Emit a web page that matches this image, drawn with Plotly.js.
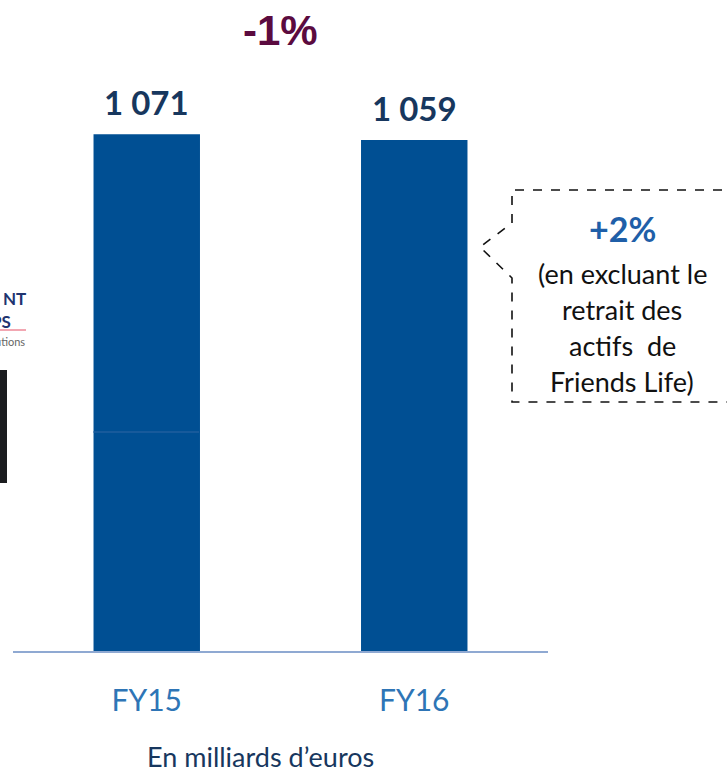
<!DOCTYPE html>
<html>
<head>
<meta charset="utf-8">
<script src="https://cdn.plot.ly/plotly-3.0.1.min.js"></script>
<style>
  html, body { margin: 0; padding: 0; background: #ffffff; }
  #chart { width: 727px; height: 773px; }
</style>
</head>
<body>
<div id="chart"></div>
<script>
// ---- data ----
const categories = ["FY15", "FY16"];
const values = [1071, 1059];
const valueLabels = ["1 071", "1 059"];
const changeLabel = "-1%";
const calloutHeadline = "+2%";
const calloutLines = ["(en excluant le", "retrait des", "actifs  de", "Friends Life)"];
const unitNote = "En milliards d\u2019euros";

// ---- geometry helpers (pixel -> paper) ----
const W = 727, H = 773;
const M = { l: 13, r: 179, t: 0, b: 122 };
const PW = W - M.l - M.r, PH = H - M.t - M.b;
const px = X => (X - M.l) / PW;
const py = Y => (H - M.b - Y) / PH;

const font = "Lato, 'Open Sans', sans-serif";

const trace = {
  type: "bar",
  x: categories,
  y: values,
  marker: { color: "#004F93", line: { width: 0 } },
  hoverinfo: "none"
};

const annotations = [];
categories.forEach((c, i) => {
  annotations.push({
    x: c, y: values[i], xref: "x", yref: "y",
    text: "<b>" + valueLabels[i] + "</b>",
    showarrow: false, yanchor: "bottom", yshift: 10,
    font: { family: font, size: 33, color: "#17375E" }
  });
});
annotations.push({
  x: px(280), y: py(30), xref: "paper", yref: "paper",
  text: "<b>" + changeLabel + "</b>", showarrow: false,
  xanchor: "center", yanchor: "middle",
  font: { family: "'Liberation Sans', Arial, sans-serif", size: 42, color: "#5B0B3F" }
});
annotations.push({
  x: px(622), y: py(229), xref: "paper", yref: "paper",
  text: "<b>" + calloutHeadline + "</b>", showarrow: false,
  xanchor: "center", yanchor: "middle",
  font: { family: font, size: 34, color: "#1F5FA8" }
});
const lineY = [273, 309, 345, 381];
calloutLines.forEach((t, i) => {
  annotations.push({
    x: px(622), y: py(lineY[i]), xref: "paper", yref: "paper",
    text: t, showarrow: false, xanchor: "center", yanchor: "middle",
    font: { family: font, size: 27, color: "#111111" }
  });
});
annotations.push({
  x: px(260), y: py(756), xref: "paper", yref: "paper",
  text: unitNote, showarrow: false, xanchor: "center", yanchor: "middle",
  font: { family: font, size: 27, color: "#17375E" }
});
// cropped logo fragments at left edge
annotations.push({
  x: px(27), y: py(310), xref: "paper", yref: "paper",
  text: "<b>NT</b>", showarrow: false, xanchor: "right", yanchor: "bottom",
  borderpad: 0, font: { family: font, size: 17, color: "#1F3470" }
});
annotations.push({
  x: px(12), y: py(310), xref: "paper", yref: "paper",
  text: "<b>PS</b>", showarrow: false, xanchor: "right", yanchor: "top",
  borderpad: 0, font: { family: font, size: 17, color: "#1F3470" }
});
annotations.push({
  x: px(27), y: py(341), xref: "paper", yref: "paper",
  text: "utions", showarrow: false, xanchor: "right", yanchor: "middle",
  font: { family: font, size: 11, color: "#666666" }
});

const shapes = [
  { type: "path", xref: "paper", yref: "paper",
    path: `M ${px(740)},${py(190)} L ${px(512)},${py(190)} L ${px(512)},${py(223)} L ${px(480)},${py(247)} L ${px(512)},${py(278)} L ${px(512)},${py(402)} L ${px(740)},${py(402)}`,
    line: { color: "#111111", width: 1.6, dash: "dash" } },
  { type: "line", xref: "paper", yref: "paper",
    x0: px(0), x1: px(26), y0: py(330), y1: py(330),
    line: { color: "#F2A7B2", width: 2 } },
  { type: "rect", xref: "paper", yref: "paper",
    x0: px(0), x1: px(7), y0: py(483), y1: py(370),
    fillcolor: "#1B1D1F", line: { width: 0 } },
  { type: "line", xref: "paper", yref: "paper",
    x0: px(93), x1: px(199), y0: py(432), y1: py(432),
    line: { color: "#2F66A3", width: 1 } }
];

const layout = {
  width: W, height: H,
  margin: M,
  paper_bgcolor: "#ffffff", plot_bgcolor: "#ffffff",
  showlegend: false,
  bargap: 0.602,
  xaxis: {
    type: "category", range: [-0.5, 1.5],
    showline: true, linecolor: "#8FA9D2", linewidth: 2,
    ticks: "", showgrid: false, zeroline: false,
    tickfont: { family: font, size: 30, color: "#2E75B6" },
    ticklabelstandoff: 22, fixedrange: true
  },
  yaxis: {
    range: [0, PH / 0.4826],
    visible: false, showgrid: false, zeroline: false, fixedrange: true
  },
  annotations: annotations,
  shapes: shapes
};

Plotly.newPlot("chart", [trace], layout, { displayModeBar: false, staticPlot: true });
</script>
</body>
</html>
